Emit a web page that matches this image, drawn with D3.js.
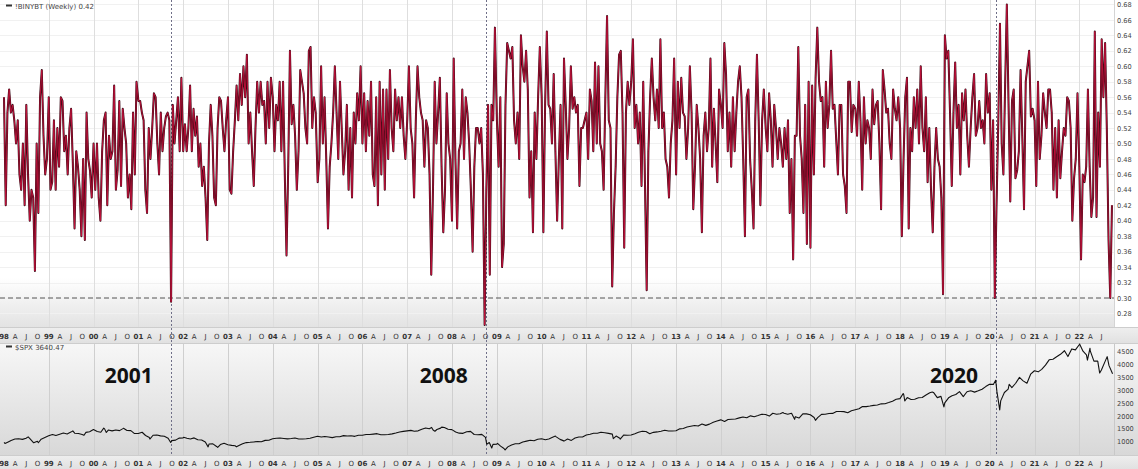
<!DOCTYPE html>
<html>
<head>
<meta charset="utf-8">
<script src="https://cdn.jsdelivr.net/npm/d3@7/dist/d3.min.js"></script>
<style>
html,body{margin:0;padding:0;background:#fff;}
svg{display:block;}
text{font-family:"DejaVu Sans",Verdana,sans-serif;}
</style>
</head>
<body>
<svg id="chart" width="1138" height="469"></svg>
<script>
// ================= DATA =================
// !BINYBT, about two weeks apart, one array per calendar year
const binyYears = [1998,1999,2000,2001,2002,2003,2004,2005,2006,2007,2008,2009,2010,2011,2012,2013,2014,2015,2016,2017,2018,2019,2020,2021,2022];
const biny1998 = [0.56,0.42,0.54,0.57,0.54,0.55,0.53,0.50,0.53,0.46,0.44,0.50,0.42,0.55,0.46,0.40,0.44,0.43,0.335,0.50,0.41,0.56,0.595,0.51,0.46,0.48];
const biny1999 = [0.56,0.44,0.45,0.53,0.44,0.52,0.47,0.56,0.555,0.49,0.51,0.46,0.52,0.545,0.475,0.39,0.49,0.47,0.44,0.38,0.48,0.375,0.54,0.48,0.465,0.43];
const biny2000 = [0.50,0.44,0.50,0.43,0.40,0.49,0.53,0.54,0.42,0.51,0.48,0.49,0.575,0.44,0.465,0.555,0.445,0.545,0.52,0.50,0.43,0.46,0.415,0.54,0.46,0.58];
const biny2001 = [0.555,0.555,0.54,0.53,0.44,0.41,0.52,0.48,0.52,0.565,0.56,0.50,0.46,0.54,0.49,0.52,0.535,0.54,0.53,0.295,0.55,0.50,0.53,0.56,0.49,0.585];
const biny2002 = [0.49,0.525,0.49,0.52,0.575,0.49,0.545,0.51,0.535,0.47,0.50,0.445,0.47,0.43,0.375,0.50,0.55,0.51,0.43,0.42,0.52,0.56,0.555,0.52,0.49,0.53];
const biny2003 = [0.56,0.44,0.435,0.49,0.53,0.575,0.53,0.59,0.55,0.60,0.56,0.615,0.50,0.54,0.49,0.445,0.52,0.58,0.54,0.58,0.55,0.555,0.50,0.58,0.52,0.585];
const biny2004 = [0.56,0.49,0.55,0.53,0.58,0.49,0.58,0.46,0.355,0.47,0.62,0.525,0.55,0.51,0.44,0.49,0.595,0.58,0.565,0.52,0.50,0.62,0.625,0.52,0.56,0.54];
const biny2005 = [0.45,0.48,0.60,0.50,0.56,0.48,0.39,0.47,0.50,0.54,0.60,0.54,0.48,0.58,0.52,0.46,0.49,0.55,0.44,0.52,0.43,0.54,0.50,0.565,0.53,0.60];
const biny2006 = [0.50,0.565,0.49,0.555,0.51,0.58,0.46,0.445,0.56,0.42,0.58,0.46,0.57,0.44,0.57,0.48,0.595,0.52,0.49,0.57,0.53,0.56,0.52,0.56,0.51,0.48];
const biny2007 = [0.53,0.60,0.52,0.50,0.43,0.53,0.60,0.56,0.54,0.53,0.47,0.53,0.52,0.46,0.33,0.44,0.58,0.50,0.54,0.585,0.47,0.385,0.44,0.565,0.50,0.48];
const biny2008 = [0.40,0.61,0.48,0.39,0.49,0.50,0.57,0.48,0.56,0.54,0.50,0.44,0.36,0.47,0.52,0.52,0.50,0.52,0.46,0.265,0.44,0.55,0.33,0.55,0.53,0.65];
const biny2009 = [0.53,0.47,0.56,0.34,0.37,0.55,0.63,0.62,0.61,0.625,0.53,0.50,0.54,0.48,0.64,0.60,0.58,0.62,0.57,0.43,0.49,0.385,0.54,0.48,0.56,0.625];
const biny2010 = [0.56,0.385,0.55,0.645,0.55,0.545,0.50,0.59,0.49,0.40,0.48,0.55,0.39,0.61,0.55,0.48,0.52,0.60,0.545,0.56,0.54,0.55,0.445,0.52,0.52,0.53];
const biny2011 = [0.54,0.48,0.57,0.555,0.49,0.605,0.50,0.60,0.50,0.49,0.44,0.56,0.665,0.53,0.52,0.315,0.41,0.47,0.56,0.615,0.62,0.54,0.365,0.54,0.58,0.55];
const biny2012 = [0.58,0.635,0.52,0.55,0.50,0.54,0.445,0.58,0.45,0.31,0.49,0.56,0.61,0.56,0.53,0.57,0.52,0.635,0.52,0.54,0.48,0.47,0.43,0.50,0.53,0.61];
const biny2013 = [0.46,0.58,0.52,0.585,0.54,0.535,0.48,0.52,0.60,0.54,0.415,0.47,0.55,0.52,0.48,0.385,0.51,0.54,0.49,0.52,0.61,0.47,0.545,0.50,0.45,0.57];
const biny2014 = [0.55,0.52,0.63,0.59,0.49,0.54,0.47,0.56,0.49,0.54,0.58,0.60,0.56,0.48,0.38,0.56,0.57,0.48,0.44,0.39,0.53,0.615,0.53,0.42,0.53,0.57];
const biny2015 = [0.52,0.49,0.565,0.53,0.47,0.55,0.52,0.48,0.52,0.50,0.47,0.52,0.48,0.53,0.41,0.48,0.35,0.51,0.51,0.625,0.51,0.48,0.41,0.55,0.37,0.58];
const biny2016 = [0.365,0.575,0.46,0.585,0.65,0.58,0.555,0.56,0.47,0.58,0.52,0.55,0.62,0.545,0.55,0.505,0.46,0.55,0.55,0.46,0.445,0.41,0.58,0.58,0.515,0.55];
const biny2017 = [0.545,0.51,0.58,0.53,0.44,0.56,0.50,0.53,0.52,0.48,0.57,0.525,0.55,0.555,0.50,0.415,0.595,0.57,0.54,0.545,0.50,0.48,0.57,0.545,0.53,0.56];
const biny2018 = [0.52,0.38,0.48,0.56,0.585,0.39,0.52,0.49,0.56,0.52,0.57,0.50,0.60,0.52,0.49,0.56,0.45,0.52,0.44,0.385,0.47,0.52,0.48,0.47,0.43,0.305];
const biny2019 = [0.64,0.61,0.62,0.54,0.445,0.54,0.605,0.52,0.55,0.46,0.565,0.53,0.57,0.51,0.47,0.52,0.56,0.59,0.51,0.52,0.555,0.52,0.53,0.50,0.59,0.54];
const biny2020 = [0.565,0.44,0.53,0.30,0.42,0.525,0.655,0.50,0.46,0.575,0.68,0.55,0.425,0.555,0.57,0.455,0.465,0.49,0.595,0.51,0.415,0.58,0.60,0.62,0.535,0.545];
const biny2021 = [0.53,0.445,0.58,0.48,0.51,0.565,0.54,0.52,0.57,0.57,0.54,0.44,0.52,0.43,0.53,0.455,0.49,0.52,0.51,0.56,0.555,0.52,0.40,0.455,0.48,0.565];
const biny2022 = [0.47,0.35,0.46,0.45,0.47,0.57,0.47,0.405,0.43,0.645,0.405,0.54,0.47,0.635,0.56,0.63,0.52,0.375,0.30,0.42];
const binyByYear = [biny1998,biny1999,biny2000,biny2001,biny2002,biny2003,biny2004,biny2005,biny2006,biny2007,biny2008,biny2009,biny2010,biny2011,biny2012,biny2013,biny2014,biny2015,biny2016,biny2017,biny2018,biny2019,biny2020,biny2021,biny2022];
const binyLabel = "!BINYBT (Weekly)";
const binyLast = 0.42;
const binyTicks = [0.28,0.30,0.32,0.34,0.36,0.38,0.40,0.42,0.44,0.46,0.48,0.50,0.52,0.54,0.56,0.58,0.60,0.62,0.64,0.66,0.68];
const binyThreshold = 0.30;

// $SPX month-end closes, Jan 1998 .. Aug 2022
const spxMonthly = [
980,1049,1101,1111,1090,1133,1120,957,1017,1098,1163,1229,
1279,1238,1286,1335,1301,1372,1329,1320,1282,1362,1388,1469,
1394,1366,1498,1452,1420,1454,1430,1517,1436,1429,1315,1320,
1366,1240,1160,1249,1256,1224,1211,1134,1041,1060,1139,1148,
1130,1107,1147,1077,1067,990,912,916,815,886,936,880,
856,841,848,917,964,975,990,1008,996,1051,1058,1112,
1131,1145,1126,1107,1121,1141,1102,1104,1115,1130,1174,1212,
1181,1204,1181,1157,1192,1191,1234,1220,1229,1207,1249,1248,
1280,1281,1295,1311,1270,1270,1277,1304,1336,1378,1401,1418,
1438,1407,1421,1482,1531,1503,1455,1474,1527,1549,1481,1468,
1379,1331,1323,1386,1400,1280,1267,1283,1166,969,896,903,
826,735,798,873,919,919,987,1021,1057,1036,1096,1115,
1074,1104,1169,1187,1089,1031,1102,1049,1141,1183,1181,1258,
1286,1327,1326,1364,1345,1321,1292,1219,1131,1253,1247,1258,
1312,1366,1408,1398,1310,1362,1379,1407,1441,1412,1416,1426,
1498,1515,1569,1598,1631,1606,1686,1633,1682,1757,1806,1848,
1783,1859,1872,1884,1924,1960,1931,2003,1972,2018,2068,2059,
1995,2105,2068,2086,2107,2063,2104,1972,1920,2079,2080,2044,
1940,1932,2060,2065,2097,2099,2174,2171,2168,2126,2199,2239,
2279,2364,2363,2384,2412,2423,2470,2472,2519,2575,2648,2674,
2824,2714,2641,2648,2705,2718,2816,2902,2914,2712,2760,2507,
2704,2784,2834,2946,2752,2942,2980,2926,2977,3038,3141,3231,
3226,2954,2585,2912,3044,3100,3271,3500,3363,3270,3622,3756,
3714,3811,3973,4181,4204,4298,4395,4523,4308,4605,4567,4766,
4516,4374,4530,4132,4132,3785,4130,3955];
// extra $SPX points at turning points
const spxExtraDates = ["1998-01-02","1998-01-09","1998-07-17","1998-10-08","1999-07-16","1999-10-15","2000-03-24","2000-04-14","2000-09-01","2001-04-04","2001-09-21","2002-01-04","2002-07-23","2002-10-09","2003-03-11","2007-07-19","2007-08-15","2007-10-09","2008-10-10","2008-11-20","2009-01-06","2009-03-09","2010-04-23","2010-07-02","2011-04-29","2011-08-08","2011-10-03","2015-05-21","2015-08-25","2016-02-11","2018-01-26","2018-02-08","2018-09-20","2018-12-24","2020-02-19","2020-03-23","2020-06-08","2021-09-02","2022-01-03","2022-03-08","2022-03-29","2022-06-16","2022-08-16","2022-09-29"];
const spxExtraValues = [975,927,1186,959,1418,1247,1527,1356,1520,1103,966,1172,797,777,800,1553,1406,1565,899,752,935,677,1217,1022,1364,1119,1099,2131,1867,1829,2873,2581,2930,2351,3386,2237,3232,4537,4797,4171,4632,3667,4305,3640.47];
const spxLabel = "$SPX";
const spxLast = 3640.47;
const spxTicks = [1000,1500,2000,2500,3000,3500,4000,4500];

// marked events
const eventLabels = ["2001","2008","2020"];
const eventDates = ["2001-09-21","2008-10-03","2020-02-21"];
const quarterLetters = ["", "A", "J", "O"];

// ================= CHART =================
const W = 1138, H = 469;
const plotR = 1114;
const topY0 = 0, topY1 = 327, strip1 = [327, 343], botY0 = 343, botY1 = 455, strip2 = [455, 469];
const parse = d3.timeParse("%Y-%m-%d");

const x = d3.scaleTime().domain([new Date(1998,0,1), new Date(2022,8,30)]).range([4, 1112.7]);
const yT = d3.scaleLinear().domain([0.26246, 0.68576]).range([topY1, topY0]);
const yB = d3.scaleLinear().domain([482, 4835]).range([botY1, botY0]);

const biny = [];
binyYears.forEach((yr, k) => {
  binyByYear[k].forEach((v, i) => biny.push({d: d3.timeDay.offset(new Date(yr,0,1), i*14), v}));
});
const spx = spxMonthly.map((v, i) => ({d: new Date(1998, i+1, 0), v}))
  .concat(spxExtraDates.map((s, i) => ({d: parse(s), v: spxExtraValues[i]})))
  .sort((a, b) => a.d - b.d);

const svg = d3.select("#chart");
const defs = svg.append("defs");
function grad(id, stops) {
  const g = defs.append("linearGradient").attr("id", id).attr("x1",0).attr("y1",0).attr("x2",0).attr("y2",1);
  stops.forEach(([o,c]) => g.append("stop").attr("offset", o).attr("stop-color", c));
}
grad("gTop", [[0,"#ffffff"],[0.85,"#ffffff"],[1,"#e3e3e3"]]);
grad("gBot", [[0,"#f7f7f7"],[1,"#d8d8d8"]]);
grad("gStrip", [[0,"#efefef"],[1,"#e1e1e1"]]);
defs.append("clipPath").attr("id","cTop").append("rect").attr("x",0).attr("y",topY0).attr("width",plotR).attr("height",topY1-topY0);
defs.append("clipPath").attr("id","cBot").append("rect").attr("x",0).attr("y",botY0).attr("width",plotR).attr("height",botY1-botY0);

// backgrounds
svg.append("rect").attr("width",W).attr("height",H).attr("fill","#fff");
svg.append("rect").attr("x",0).attr("y",topY0).attr("width",plotR).attr("height",topY1-topY0).attr("fill","url(#gTop)");
svg.append("rect").attr("x",0).attr("y",botY0).attr("width",W).attr("height",botY1-botY0).attr("fill","url(#gBot)");
svg.append("rect").attr("x",0).attr("y",strip1[0]).attr("width",W).attr("height",strip1[1]-strip1[0]).attr("fill","url(#gStrip)");
svg.append("rect").attr("x",0).attr("y",strip2[0]).attr("width",W).attr("height",strip2[1]-strip2[0]).attr("fill","url(#gStrip)");

// grids
const yearStarts = d3.timeYear.range(new Date(1999,0,1), new Date(2022,8,30));
svg.append("g").selectAll("line").data(binyTicks).join("line")
  .attr("x1",0).attr("x2",plotR).attr("y1",d=>Math.round(yT(d))+0.5).attr("y2",d=>Math.round(yT(d))+0.5)
  .attr("stroke","#f1f1f1");
svg.append("g").selectAll("line").data(yearStarts).join("line")
  .attr("x1",d=>Math.round(x(d))+0.5).attr("x2",d=>Math.round(x(d))+0.5).attr("y1",topY0).attr("y2",topY1)
  .attr("stroke","#dedede");
svg.append("g").selectAll("line").data(yearStarts).join("line")
  .attr("x1",d=>Math.round(x(d))+0.5).attr("x2",d=>Math.round(x(d))+0.5).attr("y1",botY0).attr("y2",botY1)
  .attr("stroke","#cfcfcf");

// borders
svg.append("line").attr("x1",plotR+0.5).attr("x2",plotR+0.5).attr("y1",0).attr("y2",topY1).attr("stroke","#d4d4d4");
svg.append("line").attr("x1",plotR+0.5).attr("x2",plotR+0.5).attr("y1",botY0).attr("y2",botY1).attr("stroke","#c8c8c8");
[topY1, strip1[1], strip2[0]].forEach(y => svg.append("line").attr("x1",0).attr("x2",W).attr("y1",y+0.5).attr("y2",y+0.5).attr("stroke","#cdcdcd"));

// threshold dashed line
svg.append("line").attr("x1",0).attr("x2",plotR).attr("y1",yT(binyThreshold)).attr("y2",yT(binyThreshold))
  .attr("stroke","#555").attr("stroke-width",1).attr("stroke-dasharray","5,3");

// event dotted lines
svg.append("g").selectAll("line").data(eventDates).join("line")
  .attr("x1",d=>Math.round(x(parse(d)))+0.5).attr("x2",d=>Math.round(x(parse(d)))+0.5)
  .attr("y1",0).attr("y2",botY1)
  .attr("stroke","#6f6f88").attr("stroke-width",1).attr("stroke-dasharray","2,2");

// BINYBT line
const lineT = d3.line().x(d=>x(d.d)).y(d=>yT(d.v));
const gT = svg.append("g").attr("clip-path","url(#cTop)");
gT.append("path").datum(biny).attr("d",lineT).attr("fill","none").attr("stroke","#3a0814").attr("stroke-width",2).attr("stroke-linejoin","round");
gT.append("path").datum(biny).attr("d",lineT).attr("fill","none").attr("stroke","#c4123c").attr("stroke-width",0.9).attr("stroke-linejoin","round");

// SPX line
const lineB = d3.line().x(d=>x(d.d)).y(d=>yB(d.v));
svg.append("g").attr("clip-path","url(#cBot)").append("path").datum(spx).attr("d",lineB)
  .attr("fill","none").attr("stroke","#111").attr("stroke-width",1.1).attr("stroke-linejoin","round");

// right axes
const axT = svg.append("g").attr("transform",`translate(${plotR+3},0)`)
  .call(d3.axisRight(yT).tickValues(binyTicks).tickSize(0).tickPadding(0).tickFormat(d3.format(".2f")));
const axB = svg.append("g").attr("transform",`translate(${plotR+3},0)`)
  .call(d3.axisRight(yB).tickValues(spxTicks).tickSize(0).tickPadding(0).tickFormat(d3.format("d")));
[axT, axB].forEach(a => {
  a.select(".domain").remove();
  a.selectAll("text").attr("font-family","DejaVu Sans, sans-serif").attr("font-size",6.6).attr("fill","#444");
});

// time strips
const quarters = d3.timeMonth.every(3).range(new Date(1998,0,1), new Date(2022,9,1));
[338.5, 465.5].forEach(yb => {
  svg.append("g").selectAll("text").data(quarters).join("text")
    .attr("x", d => x(d)).attr("y", yb)
    .attr("text-anchor","middle")
    .attr("font-size", 7)
    .attr("font-weight", d => d.getMonth() === 0 ? "bold" : "normal")
    .attr("fill", "#333")
    .text(d => d.getMonth() === 0 ? d3.timeFormat("%y")(d) : quarterLetters[d.getMonth()/3]);
});

// legends
svg.append("line").attr("x1",6).attr("x2",12).attr("y1",5.5).attr("y2",5.5).attr("stroke","#333").attr("stroke-width",2);
svg.append("text").attr("x",15).attr("y",8.5).attr("font-size",7).attr("fill","#444")
  .text(`${binyLabel} ${binyLast.toFixed(2)}`);
svg.append("line").attr("x1",6).attr("x2",12).attr("y1",346.5).attr("y2",346.5).attr("stroke","#333").attr("stroke-width",2);
svg.append("text").attr("x",15).attr("y",349.5).attr("font-size",7).attr("fill","#444")
  .text(`${spxLabel} ${spxLast.toFixed(2)}`);

// event annotations
svg.append("g").selectAll("text").data(eventLabels).join("text")
  .attr("x", (d,i) => x(parse(eventDates[i])) - 18)
  .attr("y", 383)
  .attr("text-anchor","end")
  .style("font-family","'Open Sans', sans-serif")
  .attr("font-weight", 700)
  .attr("font-size", 21)
  .attr("fill","#111")
  .text(d => d);
</script>
</body>
</html>
